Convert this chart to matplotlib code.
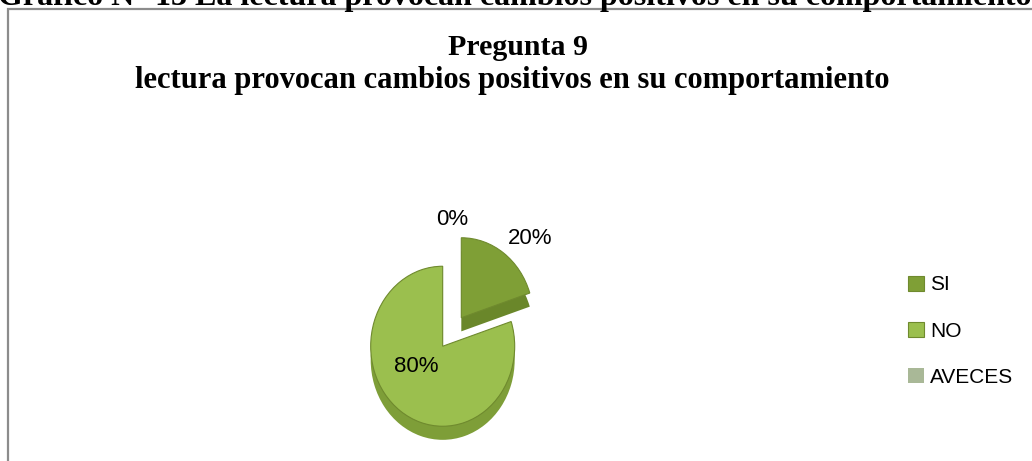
import matplotlib.pyplot as plt
from matplotlib.patches import Rectangle

# data
categories = ["SI", "NO", "AVECES"]
percentages = [20, 80, 0]
pct_labels = ["20%", "80%", "0%"]
colors = ["#7f9f36", "#9bbf4e", "#a9b897"]
side_colors = ["#6a872a", "#7e9e38", "#8a9878"]

page_caption = "Gráfico N° 13 La lectura provocan cambios positivos en su comportamiento"
title_lines = ["Pregunta 9", "lectura provocan cambios positivos en su comportamiento"]

W, H = 1032, 461
fig = plt.figure(figsize=(W / 100, H / 100), dpi=100)

# caption of the page, cut off at the top edge
fig.text(-0.002, 1 - 5 / H, page_caption, ha="left", va="baseline",
         family="Liberation Serif", weight="bold", fontsize=23)

# chart frame (runs off the right and bottom edge)
fig.add_artist(Rectangle((8 / W, -0.05), 1.2, 1 - 9 / H + 0.05,
                         transform=fig.transFigure, fill=False,
                         edgecolor="#8c8c8c", lw=1.6))

fig.text(0.502, 1 - 55 / H, title_lines[0], ha="center", va="baseline",
         family="Liberation Serif", weight="bold", fontsize=21.5)
fig.text(0.496, 1 - 88 / H, title_lines[1], ha="center", va="baseline",
         family="Liberation Serif", weight="bold", fontsize=22)

# pie axes: one data unit = 72 px across, 80 px up, centre at (452, 332)
cx, cy, sx, sy = 452, 332, 72, 80
ax = fig.add_axes([0, 0, 1, 1])
ax.axis("off")

# darker copy shifted down gives the 3-D thickness of the pie
depth = 0.17
ax.pie(percentages, colors=side_colors, startangle=90, counterclock=False,
       explode=[0.22, 0.22, 0.22], center=(0, -depth),
       wedgeprops=dict(linewidth=0))
wedges, texts = ax.pie(percentages, colors=colors, startangle=90,
                       counterclock=False, explode=[0.22, 0.22, 0.22],
                       labels=pct_labels, labeldistance=1.15,
                       textprops=dict(family="Liberation Sans", fontsize=16),
                       wedgeprops=dict(linewidth=0.8, edgecolor="#6f8a2e"))
wedges[2].set_linewidth(0)
ax.set_xlim(-cx / sx, (W - cx) / sx)
ax.set_ylim(-(H - cy) / sy, cy / sy)
ax.set_aspect("auto")

label_pos = [(1.08, 1.175), (-0.5, -0.425), (0.0, 1.41)]
for t, (x, y) in zip(texts, label_pos):
    t.set_position((x, y))
    t.set_ha("center")
    t.set_va("center")

leg = fig.legend(wedges, categories, loc="center left",
                 bbox_to_anchor=(0.862, 1 - 331 / H), frameon=False,
                 prop=dict(family="Liberation Sans", size=15),
                 handlelength=0.75, handleheight=0.75, handletextpad=0.3,
                 labelspacing=1.3)

fig.savefig("out.png", dpi=100)
